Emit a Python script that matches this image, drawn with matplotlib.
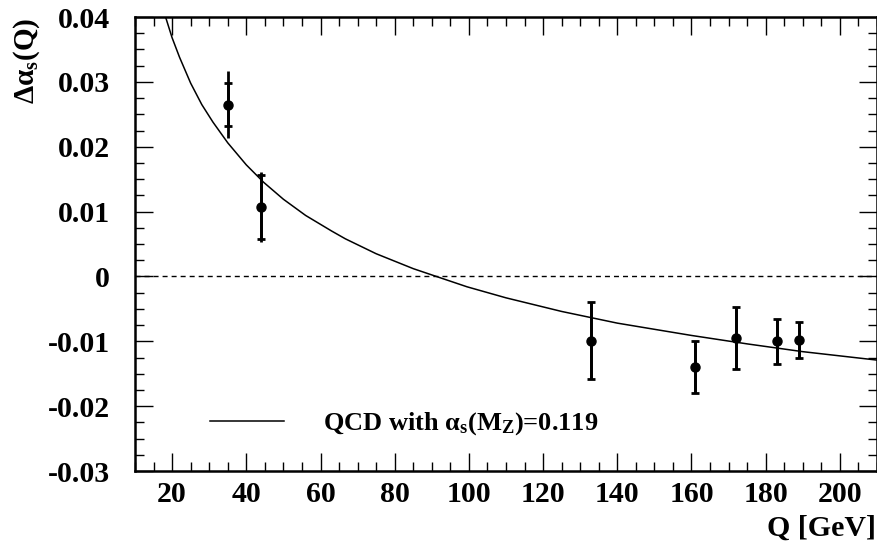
import matplotlib
matplotlib.use("Agg")
import matplotlib.pyplot as plt
from matplotlib.ticker import MultipleLocator, FixedLocator

plt.rcParams['font.family'] = ['Liberation Serif', 'DejaVu Serif']
plt.rcParams['font.weight'] = 'bold'
plt.rcParams['mathtext.fontset'] = 'custom'
plt.rcParams['mathtext.rm'] = 'Liberation Serif:bold'
plt.rcParams['mathtext.bf'] = 'Liberation Serif:bold'
plt.rcParams['mathtext.it'] = 'Liberation Serif:bold'

# Data points
Q = [35, 44, 133, 161, 172, 183, 189]
dalpha = [0.0265, 0.0107, -0.0099, -0.0140, -0.0095, -0.0100, -0.0098]
err_inner = [0.0033, 0.0049, 0.0059, 0.0040, 0.0048, 0.0035, 0.0027]
err_outer = [0.0051, 0.0054, 0.0059, 0.0040, 0.0048, 0.0035, 0.0027]

# QCD curve
Q_curve = [17.8, 20, 22, 25, 28, 31, 35, 40, 44.7, 50, 56, 63, 66.7, 75, 85,
           91.2, 99.5, 110, 125, 140, 148.4, 160, 175, 190, 210]
d_curve = [0.0408, 0.0368, 0.0338, 0.0298, 0.0265, 0.0238, 0.0206, 0.0172,
           0.0145, 0.0119, 0.0094, 0.0070, 0.0058, 0.0035, 0.0012, 0.0000,
           -0.0016, -0.0033, -0.0054, -0.0072, -0.0080, -0.0091, -0.0104,
           -0.0116, -0.0129]

x_ticks = [20, 40, 60, 80, 100, 120, 140, 160, 180, 200]
y_ticks = [-0.03, -0.02, -0.01, 0, 0.01, 0.02, 0.03, 0.04]
y_ticklabels = ['-0.03', '-0.02', '-0.01', '0', '0.01', '0.02', '0.03', '0.04']

fig = plt.figure(figsize=(8.78, 5.42), dpi=100)
ax = fig.add_axes([135/878, 1-471/542, 742/878, 454/542])

ax.set_xlim(10, 210)
ax.set_ylim(-0.03, 0.04)

ax.axhline(0, color='black', lw=1.0, linestyle=(0, (3.6, 2.9)), zorder=1)
line, = ax.plot(Q_curve, d_curve, color='black', lw=1.1, zorder=2,
                label=r'QCD with $\mathregular{\alpha_s(M_Z)}$=0.119')

ax.errorbar(Q, dalpha, yerr=err_outer, fmt='none', ecolor='black',
            elinewidth=2.0, capsize=0, zorder=3)
ax.errorbar(Q, dalpha, yerr=err_inner, fmt='o', color='black', ecolor='black',
            markersize=6.5, elinewidth=2.0, capsize=3.0, capthick=2.0, zorder=4)

ax.xaxis.set_major_locator(FixedLocator(x_ticks))
ax.xaxis.set_minor_locator(MultipleLocator(5))
ax.yaxis.set_major_locator(FixedLocator(y_ticks))
ax.set_yticklabels(y_ticklabels)
ax.yaxis.set_minor_locator(MultipleLocator(0.0025))

ax.tick_params(which='both', direction='in', top=True, right=True,
               labelsize=21.5, width=1.0, colors='black')
ax.tick_params(which='major', length=13)
ax.tick_params(which='minor', length=6.5)
ax.tick_params(axis='y', which='major', pad=18)
ax.tick_params(axis='x', which='major', pad=7)
for lab in ax.get_xticklabels() + ax.get_yticklabels():
    lab.set_fontweight('bold')
for sp in ax.spines.values():
    sp.set_linewidth(1.8)

fig.text(876/878, 1-536/542, 'Q [GeV]', ha='right', va='baseline',
         fontsize=21.5, fontweight='bold')
fig.text(27/878, 1-18/542, r'$\mathregular{\Delta\alpha_s}$(Q)', rotation=90,
         ha='center', va='top', fontsize=21, fontweight='bold')

leg = ax.legend(handles=[line], loc='center left',
                bbox_to_anchor=((210-135)/742, (471-424)/454),
                frameon=False, fontsize=19, handlelength=2.8,
                handletextpad=1.5, borderpad=0, borderaxespad=0)
for t in leg.get_texts():
    t.set_fontweight('bold')

fig.savefig('out.png', dpi=100)
